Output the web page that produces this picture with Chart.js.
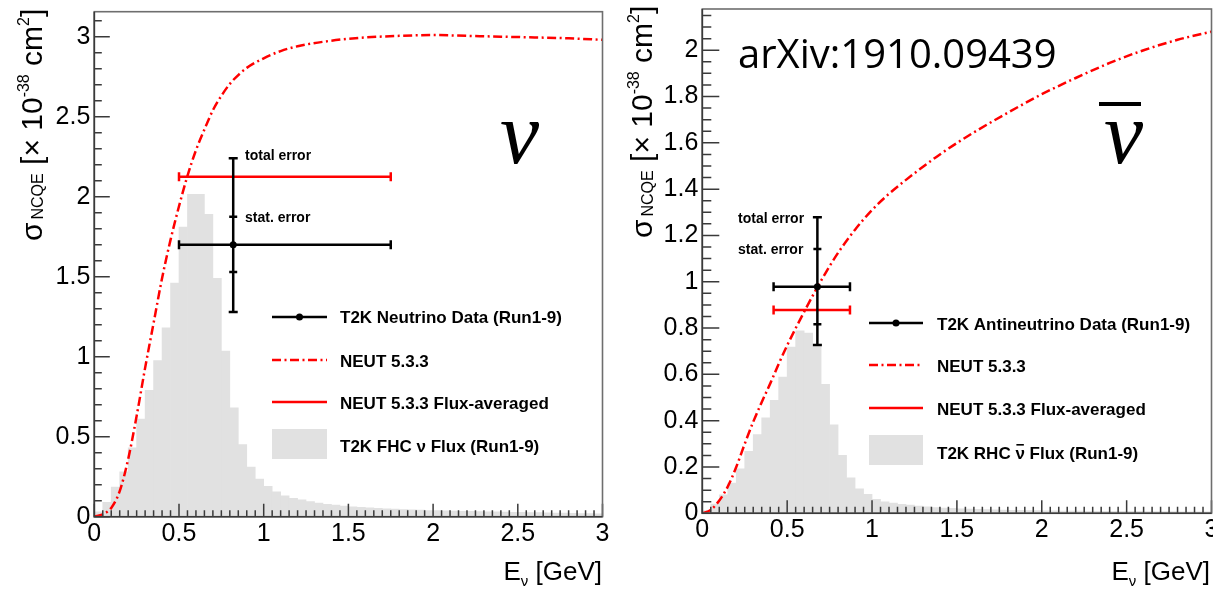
<!DOCTYPE html>
<html>
<head>
<meta charset="utf-8">
<script src="https://cdn.jsdelivr.net/npm/chart.js@4.4.1/dist/chart.umd.min.js"></script>
<style>
    html, body { margin: 0; padding: 0; background: #ffffff; }
    body { position: relative; width: 1213px; height: 590px; overflow: hidden; }
    canvas { position: absolute; }
    #nuChart { left: -30px; top: -30px; }
    #nubarChart { left: 576px; top: -30px; }
</style>
</head>
<body>
<canvas id="nuChart" width="666" height="650"></canvas>
<canvas id="nubarChart" width="667" height="650"></canvas>
<script>
// Flux histograms: 60 bins of 0.05 GeV (bin centres)
const FLUX_E = [
    0.025, 0.075, 0.125, 0.175, 0.225, 0.275, 0.325, 0.375, 0.425, 0.475,
    0.525, 0.575, 0.625, 0.675, 0.725, 0.775, 0.825, 0.875, 0.925, 0.975,
    1.025, 1.075, 1.125, 1.175, 1.225, 1.275, 1.325, 1.375, 1.425, 1.475,
    1.525, 1.575, 1.625, 1.675, 1.725, 1.775, 1.825, 1.875, 1.925, 1.975,
    2.025, 2.075, 2.125, 2.175, 2.225, 2.275, 2.325, 2.375, 2.425, 2.475,
    2.525, 2.575, 2.625, 2.675, 2.725, 2.775, 2.825, 2.875, 2.925, 2.975
];
const FHC_FLUX = [
    0.03, 0.09, 0.185, 0.28, 0.43, 0.61, 0.79, 0.975, 1.18, 1.46,
    1.81, 2.015, 2.015, 1.89, 1.49, 1.035, 0.68, 0.45, 0.31, 0.235,
    0.19, 0.155, 0.13, 0.115, 0.105, 0.095, 0.085, 0.078, 0.072, 0.067,
    0.062, 0.058, 0.055, 0.052, 0.049, 0.047, 0.045, 0.043, 0.041, 0.039,
    0.038, 0.036, 0.035, 0.034, 0.033, 0.032, 0.031, 0.030, 0.029, 0.028,
    0.027, 0.026, 0.025, 0.024, 0.023, 0.022, 0.021, 0.020, 0.019, 0.018
];
const RHC_FLUX = [
    0.012, 0.04, 0.08, 0.13, 0.192, 0.268, 0.34, 0.412, 0.488, 0.588,
    0.718, 0.788, 0.778, 0.72, 0.557, 0.382, 0.25, 0.153, 0.106, 0.082,
    0.06, 0.05, 0.044, 0.039, 0.035, 0.031, 0.028, 0.025, 0.023, 0.021,
    0.019, 0.018, 0.017, 0.016, 0.015, 0.014, 0.013, 0.013, 0.012, 0.012,
    0.011, 0.011, 0.010, 0.010, 0.010, 0.009, 0.009, 0.009, 0.008, 0.008,
    0.008, 0.008, 0.007, 0.007, 0.007, 0.007, 0.006, 0.006, 0.006, 0.006
];

// NEUT 5.3.3 cross-section curves
const NEUT_NU_E = [0, 0.05, 0.1, 0.15, 0.2, 0.25, 0.3, 0.35, 0.4, 0.45, 0.5, 0.55, 0.6, 0.65, 0.7, 0.75, 0.8, 0.85, 0.9, 1.0, 1.1, 1.2, 1.4, 1.6, 1.8, 2.0, 2.2, 2.4, 2.6, 2.8, 3.0];
const NEUT_NU_XSEC = [0, 0.015, 0.055, 0.16, 0.36, 0.63, 0.93, 1.21, 1.49, 1.73, 1.94, 2.13, 2.29, 2.42, 2.54, 2.63, 2.705, 2.76, 2.805, 2.865, 2.91, 2.94, 2.975, 2.995, 3.005, 3.01, 3.005, 3.0, 2.995, 2.99, 2.98];
const NEUT_NUBAR_E = [0, 0.05, 0.1, 0.15, 0.2, 0.25, 0.3, 0.35, 0.4, 0.45, 0.5, 0.6, 0.7, 0.8, 0.9, 1.0, 1.1, 1.2, 1.4, 1.6, 1.8, 2.0, 2.2, 2.4, 2.6, 2.8, 3.0];
const NEUT_NUBAR_XSEC = [0, 0.015, 0.055, 0.115, 0.20, 0.30, 0.395, 0.48, 0.56, 0.645, 0.725, 0.87, 1.005, 1.125, 1.225, 1.31, 1.38, 1.44, 1.55, 1.645, 1.73, 1.81, 1.88, 1.945, 2.0, 2.045, 2.08];

// T2K measurements: [low E, centre E, high E], xsec, [total low, total high], [stat low, stat high]
const NU_DATA_E = [0.5, 0.82, 1.75];
const NU_DATA_XSEC = 1.70;
const NU_TOTAL_ERR = [1.28, 2.24];
const NU_STAT_ERR = [1.53, 1.875];
const NU_FLUX_AVG = 2.125;

const NUBAR_DATA_E = [0.42, 0.678, 0.87];
const NUBAR_DATA_XSEC = 0.978;
const NUBAR_TOTAL_ERR = [0.727, 1.279];
const NUBAR_STAT_ERR = [0.816, 1.142];
const NUBAR_FLUX_AVG = 0.878;

// Axis ticks
const X_TICKS = [0, 0.5, 1, 1.5, 2, 2.5, 3];
const X_TICK_LABELS = ['0', '0.5', '1', '1.5', '2', '2.5', '3'];
const NU_Y_TICKS = [0, 0.5, 1, 1.5, 2, 2.5, 3];
const NU_Y_TICK_LABELS = ['0', '0.5', '1', '1.5', '2', '2.5', '3'];
const NUBAR_Y_TICKS = [0, 0.2, 0.4, 0.6, 0.8, 1, 1.2, 1.4, 1.6, 1.8, 2];
const NUBAR_Y_TICK_LABELS = ['0', '0.2', '0.4', '0.6', '0.8', '1', '1.2', '1.4', '1.6', '1.8', '2'];

const FONT = '"Liberation Sans", Arial, Helvetica, sans-serif';
const RED = '#ff0000';
const GREY = '#e1e1e1';
const DASHDOT = [9, 3.5, 2, 3.5];

function toXY(xs, ys) {
    return xs.map((x, i) => ({ x: x, y: ys[i] }));
}

// rich text: list of segments drawn one after another on a baseline
function richWidth(ctx, segs) {
    let w = 0;
    segs.forEach(s => {
        ctx.font = (s.bold ? 'bold ' : '') + s.size + 'px ' + FONT;
        w += ctx.measureText(s.t).width + (s.gap || 0);
    });
    return w;
}
function drawRich(ctx, segs, x, y) {
    let cx = x;
    segs.forEach(s => {
        ctx.font = (s.bold ? 'bold ' : '') + s.size + 'px ' + FONT;
        ctx.fillText(s.t, cx, y + (s.dy || 0));
        cx += ctx.measureText(s.t).width + (s.gap || 0);
    });
}

const Y_TITLE = [
    { t: 'σ', size: 30, gap: 3 },
    { t: 'NCQE', size: 16, dy: 1 },
    { t: ' [× 10', size: 30 },
    { t: '-38', size: 16, dy: -13 },
    { t: ' cm', size: 30 },
    { t: '2', size: 16, dy: -13 },
    { t: ']', size: 30 }
];
const X_TITLE = [
    { t: 'E', size: 26 },
    { t: 'ν', size: 15, dy: 6 },
    { t: ' [GeV]', size: 26 }
];

function decorPlugin(p) {
    return {
        id: 'decor',
        afterDraw(chart) {
            const ctx = chart.ctx;
            const xs = chart.scales.x;
            const ys = chart.scales.y;
            const a = chart.chartArea;

            // ticks inside the frame (major + minor)
            ctx.save();
            ctx.strokeStyle = '#3a3a3a';
            ctx.lineWidth = 1.5;
            ctx.beginPath();
            const nx = Math.round(3 / 0.05);
            for (let i = 0; i <= nx; i++) {
                const v = i * 0.05;
                const major = i % 10 === 0;
                const px = xs.getPixelForValue(v);
                ctx.moveTo(px, a.bottom);
                ctx.lineTo(px, a.bottom - (major ? 13 : 6.5));
            }
            const ny = Math.floor(p.yMax / p.yMinor + 1e-6);
            const ratio = Math.round(p.yMajor / p.yMinor);
            for (let i = 0; i <= ny; i++) {
                const v = i * p.yMinor;
                const major = i % ratio === 0;
                const py = ys.getPixelForValue(v);
                ctx.moveTo(a.left, py);
                ctx.lineTo(a.left + (major ? p.yMajorLen : p.yMinorLen), py);
            }
            ctx.stroke();

            // frame
            ctx.lineWidth = 1.6;
            ctx.strokeStyle = '#6e6e6e';
            ctx.strokeRect(a.left, a.top, a.right - a.left, a.bottom - a.top);
            ctx.strokeStyle = '#3a3a3a';
            ctx.beginPath();
            ctx.moveTo(a.left, a.top);
            ctx.lineTo(a.left, a.bottom);
            ctx.lineTo(a.right, a.bottom);
            ctx.stroke();
            ctx.restore();

            // texts, in page coordinates
            ctx.save();
            ctx.translate(-p.canvasLeft, -p.canvasTop);
            ctx.fillStyle = '#000';
            ctx.textBaseline = 'alphabetic';
            ctx.textAlign = 'left';

            // y axis title (rotated)
            ctx.save();
            ctx.translate(p.yTitleX, p.yTitleY);
            ctx.rotate(-Math.PI / 2);
            drawRich(ctx, Y_TITLE, 0, 0);
            ctx.restore();

            // x axis title, right aligned
            const w = richWidth(ctx, X_TITLE);
            drawRich(ctx, X_TITLE, p.xTitleRight - w, 580);

            // error annotations
            ctx.font = 'bold 14px ' + FONT;
            ctx.fillText('total error', p.annX, p.annTotalY);
            ctx.fillText('stat. error', p.annX, p.annStatY);

            // big nu symbol
            ctx.font = 'italic 88px "Liberation Serif"';
            ctx.fillText('ν', p.nuX, 163);
            if (p.nuBar) {
                ctx.fillRect(p.nuBar[0], 102, p.nuBar[1], 4);
            }

            if (p.arxiv) {
                ctx.font = '40px "Open Sans"';
                ctx.fillText('arXiv:1910.09439', 738, 68);
            }

            // legend
            const L = p.legend;
            ctx.lineCap = 'butt';
            ctx.lineWidth = 2.5;
            ctx.strokeStyle = '#000';
            ctx.beginPath();
            ctx.moveTo(L.x0, L.rows[0]); ctx.lineTo(L.x1, L.rows[0]);
            ctx.stroke();
            ctx.beginPath();
            ctx.arc((L.x0 + L.x1) / 2, L.rows[0], 3.5, 0, Math.PI * 2);
            ctx.fill();
            ctx.strokeStyle = RED;
            ctx.setLineDash(DASHDOT);
            ctx.beginPath();
            ctx.moveTo(L.x0, L.rows[1]); ctx.lineTo(L.x1, L.rows[1]);
            ctx.stroke();
            ctx.setLineDash([]);
            ctx.beginPath();
            ctx.moveTo(L.x0, L.rows[2]); ctx.lineTo(L.x1, L.rows[2]);
            ctx.stroke();
            ctx.fillStyle = GREY;
            ctx.fillRect(L.x0, L.box[0], L.x1 - L.x0, L.box[1] - L.box[0]);

            ctx.fillStyle = '#000';
            ctx.font = 'bold 17px ' + FONT;
            L.labels.forEach((txt, i) => {
                ctx.fillText(txt, L.tx, L.base[i]);
            });
            if (L.barPrefix) {
                const px = L.tx + ctx.measureText(L.barPrefix).width;
                const nw = ctx.measureText('ν').width;
                ctx.fillRect(px + 1, L.base[3] - 15, nw - 2, 1.6);
            }
            ctx.restore();
        }
    };
}

function makePanel(id, cfg) {
    const tickFont = { family: FONT, size: 25, lineHeight: 1.2 };
    const datasets = [
        {
            type: 'bar',
            data: toXY(FLUX_E, cfg.flux),
            backgroundColor: GREY,
            borderWidth: 0,
            barPercentage: 1,
            categoryPercentage: 1,
            order: 10
        },
        {
            type: 'line',
            data: toXY(cfg.neutE, cfg.neutXsec),
            borderColor: RED,
            borderWidth: 2.5,
            borderDash: DASHDOT,
            pointRadius: 0,
            cubicInterpolationMode: 'monotone',
            order: 6
        },
        {
            // flux-averaged NEUT prediction
            type: 'line',
            data: [{ x: cfg.dataE[0], y: cfg.fluxAvg }, { x: cfg.dataE[2], y: cfg.fluxAvg }],
            borderColor: RED,
            borderWidth: 2.5,
            pointStyle: 'line',
            rotation: 90,
            pointRadius: 4.5,
            pointBorderColor: RED,
            pointBorderWidth: 2.5,
            order: 4
        },
        {
            // data: energy range
            type: 'line',
            data: [{ x: cfg.dataE[0], y: cfg.xsec }, { x: cfg.dataE[2], y: cfg.xsec }],
            borderColor: '#000',
            borderWidth: 2.5,
            pointStyle: 'line',
            rotation: 90,
            pointRadius: 4.5,
            pointBorderColor: '#000',
            pointBorderWidth: 2.5,
            order: 2
        },
        {
            // data: total error
            type: 'line',
            data: [{ x: cfg.dataE[1], y: cfg.totErr[0] }, { x: cfg.dataE[1], y: cfg.totErr[1] }],
            borderColor: '#000',
            borderWidth: 2.5,
            pointStyle: 'line',
            rotation: 0,
            pointRadius: 4.5,
            pointBorderColor: '#000',
            pointBorderWidth: 2.5,
            order: 1
        },
        {
            // data: stat error marks
            type: 'line',
            data: [{ x: cfg.dataE[1], y: cfg.statErr[0] }, { x: cfg.dataE[1], y: cfg.statErr[1] }],
            showLine: false,
            pointStyle: 'line',
            rotation: 0,
            pointRadius: 4,
            pointBorderColor: '#000',
            pointBorderWidth: 2.5,
            order: 1
        },
        {
            // data: central value
            type: 'line',
            data: [{ x: cfg.dataE[1], y: cfg.xsec }],
            showLine: false,
            pointStyle: 'circle',
            pointRadius: 3.5,
            pointBackgroundColor: '#000',
            pointBorderColor: '#000',
            pointBorderWidth: 0,
            order: 0
        }
    ];

    new Chart(document.getElementById(id), {
        type: 'bar',
        data: { datasets: datasets },
        options: {
            responsive: false,
            animation: false,
            events: [],
            layout: { padding: cfg.padding },
            plugins: { legend: { display: false }, tooltip: { enabled: false } },
            scales: {
                x: {
                    type: 'linear',
                    min: 0,
                    max: 3,
                    offset: false,
                    grid: { display: false, drawTicks: false, offset: false },
                    border: { display: false },
                    ticks: {
                        font: tickFont,
                        color: '#000',
                        padding: 2,
                        maxRotation: 0,
                        minRotation: 0,
                        autoSkip: false,
                        callback: (v, i) => X_TICK_LABELS[i]
                    },
                    afterBuildTicks: s => { s.ticks = X_TICKS.map(v => ({ value: v })); },
                    afterFit: s => { s.height = 40; }
                },
                y: {
                    type: 'linear',
                    min: 0,
                    max: cfg.yMax,
                    grid: { display: false, drawTicks: false },
                    border: { display: false },
                    ticks: {
                        font: tickFont,
                        color: '#000',
                        padding: 4,
                        autoSkip: false,
                        callback: (v, i) => cfg.yLabels[i]
                    },
                    afterBuildTicks: s => { s.ticks = cfg.yTicks.map(v => ({ value: v })); },
                    afterFit: s => { s.width = cfg.yWidth; }
                }
            }
        },
        plugins: [decorPlugin(cfg.decor)]
    });
}

makePanel('nuChart', {
    flux: FHC_FLUX,
    neutE: NEUT_NU_E,
    neutXsec: NEUT_NU_XSEC,
    dataE: NU_DATA_E,
    xsec: NU_DATA_XSEC,
    totErr: NU_TOTAL_ERR,
    statErr: NU_STAT_ERR,
    fluxAvg: NU_FLUX_AVG,
    yMax: 3.156,
    yTicks: NU_Y_TICKS,
    yLabels: NU_Y_TICK_LABELS,
    yWidth: 124.3,
    padding: { left: 0, right: 33.5, top: 41.7, bottom: 63.3 },
    decor: {
        canvasLeft: -30, canvasTop: -30,
        yMax: 3.156, yMinor: 0.1, yMajor: 0.5, yMajorLen: 15.5, yMinorLen: 7.5,
        yTitleX: 42, yTitleY: 241,
        xTitleRight: 602,
        annX: 245, annTotalY: 160, annStatY: 222,
        nuX: 500,
        legend: {
            x0: 272, x1: 327, tx: 340,
            rows: [317, 360, 402], box: [429, 459],
            base: [323, 366.5, 409, 452],
            labels: ['T2K Neutrino Data (Run1-9)', 'NEUT 5.3.3', 'NEUT 5.3.3 Flux-averaged', 'T2K FHC ν Flux (Run1-9)']
        }
    }
});

makePanel('nubarChart', {
    flux: RHC_FLUX,
    neutE: NEUT_NUBAR_E,
    neutXsec: NEUT_NUBAR_XSEC,
    dataE: NUBAR_DATA_E,
    xsec: NUBAR_DATA_XSEC,
    totErr: NUBAR_TOTAL_ERR,
    statErr: NUBAR_STAT_ERR,
    fluxAvg: NUBAR_FLUX_AVG,
    yMax: 2.178,
    yTicks: NUBAR_Y_TICKS,
    yLabels: NUBAR_Y_TICK_LABELS,
    yWidth: 126.3,
    padding: { left: 0, right: 31.5, top: 39, bottom: 66.7 },
    decor: {
        canvasLeft: 576, canvasTop: -30,
        yMax: 2.178, yMinor: 0.05, yMajor: 0.2, yMajorLen: 17, yMinorLen: 9,
        yTitleX: 652, yTitleY: 238,
        xTitleRight: 1210,
        annX: 738, annTotalY: 223, annStatY: 254,
        nuX: 1104,
        nuBar: [1099, 42],
        arxiv: true,
        legend: {
            x0: 869, x1: 923, tx: 937,
            rows: [323, 365, 408], box: [435, 465],
            base: [330, 372.3, 415, 459],
            labels: ['T2K Antineutrino Data (Run1-9)', 'NEUT 5.3.3', 'NEUT 5.3.3 Flux-averaged', 'T2K RHC ν Flux (Run1-9)'],
            barPrefix: 'T2K RHC '
        }
    }
});
</script>
</body>
</html>
